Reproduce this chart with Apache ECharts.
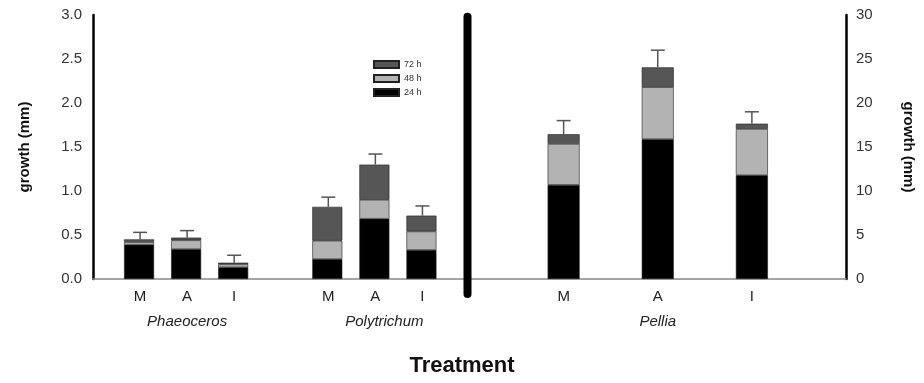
<!DOCTYPE html>
<html>
<head>
<meta charset="utf-8">
<script src="https://cdn.jsdelivr.net/npm/echarts@6/dist/echarts.min.js"></script>
<style>
  html, body { margin: 0; padding: 0; background: #fff; }
  #chart { width: 924px; height: 383px; }
</style>
</head>
<body>
<div id="chart"></div>
<script>
// Category slots along the x axis (blank slots are spacing)
const treatmentLabels = ['', 'M', 'A', 'I', '', 'M', 'A', 'I', '', '', 'M', '', 'A', '', 'I', '', ''];
const speciesLabels   = ['', '', 'Phaeoceros', '', '', '', 'Polytrichum', '', '', '', '', '', 'Pellia', '', '', '', ''];
const seriesNames = ['24 h', '48 h', '72 h'];

// Slot positions of the bars of each species
const phaeocerosSlots = [1, 2, 3];
const polytrichumSlots = [5, 6, 7];
const pelliaSlots = [10, 12, 14];
const dividerSlot = 8;

// Segment heights (mm), left axis: Phaeoceros, Polytrichum
const phaeoceros24 = [0.39, 0.34, 0.133];
const phaeoceros48 = [0.03, 0.10, 0.034];
const phaeoceros72 = [0.03, 0.03, 0.018];
const phaeocerosErr = [0.08, 0.08, 0.085];

const polytrichum24 = [0.227, 0.685, 0.33];
const polytrichum48 = [0.208, 0.215, 0.21];
const polytrichum72 = [0.385, 0.40, 0.18];
const polytrichumErr = [0.11, 0.12, 0.11];

// Segment heights (mm), right axis: Pellia
const pellia24 = [10.7, 15.9, 11.8];
const pellia48 = [4.65, 5.9, 5.25];
const pellia72 = [1.1, 2.25, 0.6];
const pelliaErr = [1.55, 1.95, 1.35];

const leftTicks = [0, 0.5, 1.0, 1.5, 2.0, 2.5, 3.0];
const rightTicks = [0, 5, 10, 15, 20, 25, 30];

const N = treatmentLabels.length;
function fill(slotsArr, vals) {
  const a = new Array(N).fill(null);
  slotsArr.forEach((s, i) => { a[s] = vals[i]; });
  return a;
}
const left24 = fill(phaeocerosSlots.concat(polytrichumSlots), phaeoceros24.concat(polytrichum24));
const left48 = fill(phaeocerosSlots.concat(polytrichumSlots), phaeoceros48.concat(polytrichum48));
const left72 = fill(phaeocerosSlots.concat(polytrichumSlots), phaeoceros72.concat(polytrichum72));
const right24 = fill(pelliaSlots, pellia24);
const right48 = fill(pelliaSlots, pellia48);
const right72 = fill(pelliaSlots, pellia72);

function errData(slotsArr, a, b, c, e) {
  return slotsArr.map((s, i) => [s, a[i] + b[i] + c[i], e[i]]);
}
const leftErr = errData(phaeocerosSlots, phaeoceros24, phaeoceros48, phaeoceros72, phaeocerosErr)
  .concat(errData(polytrichumSlots, polytrichum24, polytrichum48, polytrichum72, polytrichumErr));
const rightErr = errData(pelliaSlots, pellia24, pellia48, pellia72, pelliaErr);

const colors = { '24 h': '#000000', '48 h': '#b3b3b3', '72 h': '#565656' };
const FONT = '"Liberation Sans", Arial, sans-serif';

function errRender(params, api) {
  const x = api.value(0), top = api.value(1), e = api.value(2);
  const p0 = api.coord([x, top]);
  const p1 = api.coord([x, top + e]);
  const style = { stroke: '#555', lineWidth: 1.5 };
  return {
    type: 'group',
    children: [
      { type: 'line', shape: { x1: p0[0], y1: p0[1], x2: p1[0], y2: p1[1] }, style },
      { type: 'line', shape: { x1: p1[0] - 7, y1: p1[1], x2: p1[0] + 7, y2: p1[1] }, style }
    ]
  };
}

function barSeries(name, data, yIdx, width) {
  return {
    name, type: 'bar', data, stack: yIdx ? 'R' : 'L', yAxisIndex: yIdx,
    barWidth: width, barGap: '-100%',
    itemStyle: { color: colors[name], borderColor: '#222', borderWidth: 0.6 },
    emphasis: { disabled: true }
  };
}

const chart = echarts.init(document.getElementById('chart'));
chart.setOption({
  animation: false,
  textStyle: { fontFamily: FONT },
  title: {
    text: 'Treatment', left: 'center', top: 350,
    textStyle: { fontFamily: FONT, fontSize: 22, fontWeight: 'bold', color: '#111' }
  },
  legend: {
    data: ['72 h', '48 h', '24 h'],
    orient: 'vertical', left: 368, top: 55,
    icon: 'rect',
    itemWidth: 25, itemHeight: 7, itemGap: 5,
    textStyle: { fontSize: 9, color: '#333', fontFamily: FONT },
    selectedMode: false
  },
  grid: { left: 93, right: 71, top: 15, bottom: 104 },
  xAxis: [
    {
      type: 'category', data: treatmentLabels, boundaryGap: false,
      axisLine: { lineStyle: { color: '#888', width: 1.5 } },
      axisTick: { show: false },
      axisLabel: { interval: 0, margin: 10, fontSize: 15, color: '#222', fontFamily: FONT }
    },
    {
      type: 'category', data: speciesLabels, boundaryGap: false, position: 'bottom',
      axisLine: { show: false }, axisTick: { show: false },
      axisLabel: {
        interval: 0, margin: 35, fontSize: 15, fontStyle: 'italic', color: '#222', fontFamily: FONT,
        formatter: v => v === 'Polytrichum' ? '{p|' + v + '}' : v,
        rich: { p: { fontSize: 15, fontStyle: 'italic', color: '#222', fontFamily: FONT, padding: [0, 0, 0, 18] } }
      }
    }
  ],
  yAxis: [
    {
      type: 'value', min: leftTicks[0], max: leftTicks[leftTicks.length - 1], interval: leftTicks[1] - leftTicks[0],
      name: 'growth (mm)', nameLocation: 'middle', nameGap: 61,
      nameTextStyle: { fontSize: 15, fontWeight: 'bold', color: '#111', fontFamily: FONT },
      axisLine: { show: true, lineStyle: { color: '#000', width: 2.5 } },
      axisTick: { show: false }, splitLine: { show: false },
      axisLabel: { formatter: v => v.toFixed(1), fontSize: 15, color: '#333', margin: 11, fontFamily: FONT }
    },
    {
      type: 'value', min: rightTicks[0], max: rightTicks[rightTicks.length - 1], interval: rightTicks[1] - rightTicks[0],
      position: 'right',
      name: 'growth (mm)', nameLocation: 'middle', nameGap: 55, nameRotate: -90,
      nameTextStyle: { fontSize: 15, fontWeight: 'bold', color: '#111', fontFamily: FONT },
      axisLine: { show: true, lineStyle: { color: '#000', width: 2.5 } },
      axisTick: { show: false }, splitLine: { show: false },
      axisLabel: { fontSize: 15, color: '#333', margin: 10, fontFamily: FONT }
    }
  ],
  series: [
    barSeries('24 h', left24, 0, 30),
    barSeries('48 h', left48, 0, 30),
    barSeries('72 h', left72, 0, 30),
    barSeries('24 h', right24, 1, 32),
    barSeries('48 h', right48, 1, 32),
    barSeries('72 h', right72, 1, 32),
    { type: 'custom', yAxisIndex: 0, data: leftErr, renderItem: errRender, clip: false, silent: true, z: 3 },
    { type: 'custom', yAxisIndex: 1, data: rightErr, renderItem: errRender, clip: false, silent: true, z: 3 }
  ]
});

// Thick vertical divider between the left-axis and right-axis groups
const dx = chart.convertToPixel({ xAxisIndex: 0 }, dividerSlot) - 2;
const yTop = chart.convertToPixel({ yAxisIndex: 0 }, 2.98);
const yBot = chart.convertToPixel({ yAxisIndex: 0 }, -0.17);
chart.setOption({
  graphic: [{
    type: 'line', silent: true, z: 10,
    shape: { x1: dx, y1: yTop, x2: dx, y2: yBot },
    style: { stroke: '#000', lineWidth: 8, lineCap: 'round' }
  }]
});
</script>
</body>
</html>
